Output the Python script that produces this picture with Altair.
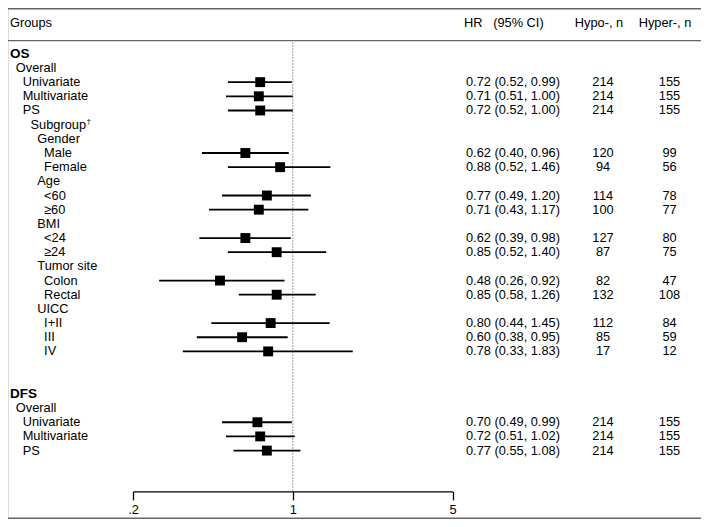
import altair as alt
import pandas as pd

# ---- data ----
labels = ["OS", "Overall", "Univariate", "Multivariate", "PS", "Subgroup", "Gender", "Male", "Female",
          "Age", "<60", "\u226560", "BMI", "<24", "\u226524", "Tumor site", "Colon", "Rectal",
          "UICC", "I+II", "III", "IV", "", "",
          "DFS", "Overall", "Univariate", "Multivariate", "PS"]
levels = [0, 1, 2, 2, 2, 3, 4, 5, 5,
          4, 5, 5, 4, 5, 5, 4, 5, 5,
          4, 5, 5, 5, 0, 0,
          0, 1, 2, 2, 2]
hr = [None, None, 0.72, 0.71, 0.72, None, None, 0.62, 0.88,
      None, 0.77, 0.71, None, 0.62, 0.85, None, 0.48, 0.85,
      None, 0.80, 0.60, 0.78, None, None,
      None, None, 0.70, 0.72, 0.77]
lo = [None, None, 0.52, 0.51, 0.52, None, None, 0.40, 0.52,
      None, 0.49, 0.43, None, 0.39, 0.52, None, 0.26, 0.58,
      None, 0.44, 0.38, 0.33, None, None,
      None, None, 0.49, 0.51, 0.55]
hi = [None, None, 0.99, 1.00, 1.00, None, None, 0.96, 1.46,
      None, 1.20, 1.17, None, 0.98, 1.40, None, 0.92, 1.26,
      None, 1.45, 0.95, 1.83, None, None,
      None, None, 0.99, 1.02, 1.08]
hypo = [None, None, 214, 214, 214, None, None, 120, 94,
        None, 114, 100, None, 127, 87, None, 82, 132,
        None, 112, 85, 17, None, None,
        None, None, 214, 214, 214]
hyper = [None, None, 155, 155, 155, None, None, 99, 56,
         None, 78, 77, None, 80, 75, None, 47, 108,
         None, 84, 59, 12, None, None,
         None, None, 155, 155, 155]
bold_rows = ["OS", "DFS"]
footnote_row = 5  # "Subgroup" carries a dagger mark
x_ticks = [0.2, 1, 5]

rows = []
for i, lab in enumerate(labels):
    rows.append({
        "row": i,
        "label": lab,
        "level": levels[i],
        "bold": lab in bold_rows,
        "hr": hr[i], "lo": lo[i], "hi": hi[i],
        "ci": (f"{hr[i]:.2f} ({lo[i]:.2f}, {hi[i]:.2f})" if hr[i] is not None else ""),
        "hypo": ("" if hypo[i] is None else str(hypo[i])),
        "hyper": ("" if hyper[i] is None else str(hyper[i])),
    })
df = pd.DataFrame(rows)
est = df[df["hr"].notna()]

W, H = 693, 511
FONT = "Liberation Sans"
FS = 12.8

yscale = alt.Scale(domain=[0, 28], range=[45.8, 442.6])
xscale = alt.Scale(type="log", domain=[0.2, 5], range=[125.1, 444.5])
Y = alt.Y("row:Q", scale=yscale, axis=None)

base = alt.Chart(df)

# left labels (indent by level)
lbl_norm = base.transform_filter("!datum.bold").transform_calculate(
    xpos="[2, 7.8, 14.7, 22.5, 29.3, 36.1][datum.level]"
).mark_text(align="left", baseline="middle", font=FONT, fontSize=FS, color="black").encode(
    x=alt.X("xpos:Q", scale=None), y=Y, text="label:N")
lbl_bold = base.transform_filter("datum.bold").mark_text(
    align="left", baseline="middle", font=FONT, fontSize=FS + 0.7, fontWeight="bold", color="black"
).encode(x=alt.value(2), y=Y, text="label:N")
dagger = alt.Chart(df[df["row"] == footnote_row]).mark_text(
    align="left", baseline="middle", font=FONT, fontSize=8, dy=-3, color="black"
).encode(x=alt.value(78.5), y=Y, text=alt.value("\u2020"))

# CI lines and squares
ci_lines = alt.Chart(est).mark_rule(color="black", strokeWidth=1.8).encode(
    x=alt.X("lo:Q", scale=xscale,
            axis=alt.Axis(values=x_ticks, title=None, grid=False, orient="bottom", offset=-27.6,
                          domainColor="black", domainWidth=1.3, tickColor="black", tickWidth=1.3,
                          tickSize=8.5, labelFont=FONT, labelFontSize=FS, labelColor="black",
                          labelPadding=4, labelFlush=False,
                          labelExpr="datum.value < 0.5 ? '.2' : (datum.value < 2 ? '1' : '5')")),
    x2="hi:Q", y=Y)
squares = alt.Chart(est).mark_point(shape="square", filled=True, color="black", size=98, opacity=1).encode(
    x=alt.X("hr:Q", scale=xscale), y=Y)

# reference dotted line at HR = 1
ref_line = alt.Chart(pd.DataFrame({"v": [1]})).mark_rule(
    color="#444", strokeDash=[1, 2], strokeWidth=1).encode(
    x=alt.X("v:Q", scale=xscale), y=alt.value(34.5), y2=alt.value(483.6))

# table columns
ci_text = alt.Chart(est).mark_text(align="left", baseline="middle", font=FONT, fontSize=FS, color="black").encode(
    x=alt.value(458), y=Y, text="ci:N")
hypo_text = alt.Chart(est).mark_text(align="center", baseline="middle", font=FONT, fontSize=FS, color="black").encode(
    x=alt.value(595), y=Y, text="hypo:N")
hyper_text = alt.Chart(est).mark_text(align="center", baseline="middle", font=FONT, fontSize=FS, color="black").encode(
    x=alt.value(661.5), y=Y, text="hyper:N")

# header
hdr = pd.DataFrame({
    "t": ["Groups", "HR\u00a0\u00a0\u00a0(95% CI)", "Hypo-, n", "Hyper-, n"],
    "x": [2, 456, 591, 657],
    "a": ["left", "left", "center", "center"],
})
hdr_left = alt.Chart(hdr[hdr["a"] == "left"]).mark_text(
    align="left", baseline="middle", font=FONT, fontSize=FS, color="black").encode(
    x=alt.X("x:Q", scale=None), y=alt.value(15.3), text="t:N")
hdr_center = alt.Chart(hdr[hdr["a"] == "center"]).mark_text(
    align="center", baseline="middle", font=FONT, fontSize=FS, color="black").encode(
    x=alt.X("x:Q", scale=None), y=alt.value(15.3), text="t:N")

# horizontal frame lines
top_line = alt.Chart(pd.DataFrame({"k": [0]})).mark_rule(color="#666", strokeWidth=1.4).encode(
    x=alt.value(0), x2=alt.value(W), y=alt.value(0.8))
hdr_line = alt.Chart(pd.DataFrame({"k": [0]})).mark_rule(color="#666", strokeWidth=1.4).encode(
    x=alt.value(0), x2=alt.value(W), y=alt.value(32.6))
bot_line = alt.Chart(pd.DataFrame({"k": [0]})).mark_rule(color="#666", strokeWidth=1.4).encode(
    x=alt.value(0), x2=alt.value(W), y=alt.value(510.2))

chart = alt.layer(
    top_line, hdr_line, bot_line, ref_line, ci_lines, squares,
    lbl_norm, lbl_bold, dagger, ci_text, hypo_text, hyper_text, hdr_left, hdr_center,
).properties(
    width=W, height=H, autosize=alt.AutoSizeParams(type="none"), padding=0
).configure_view(stroke=None).configure(background="white")

chart.save("out.html", embed_options={"renderer": "svg", "actions": False})
